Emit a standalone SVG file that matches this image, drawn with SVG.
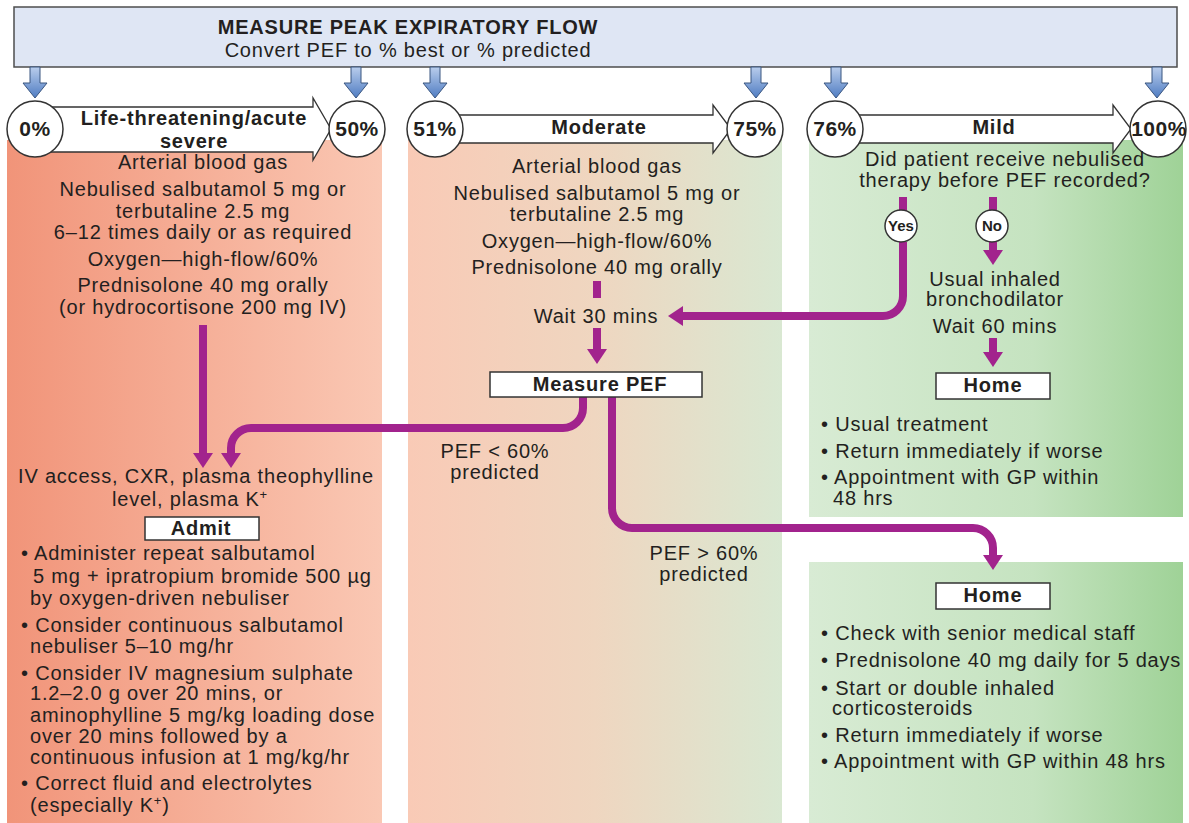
<svg xmlns="http://www.w3.org/2000/svg" width="1189" height="823" viewBox="0 0 1189 823">
<defs>
<linearGradient id="gL" x1="0" y1="0" x2="1" y2="0"><stop offset="0" stop-color="#f19479"/><stop offset="1" stop-color="#fac8b4"/></linearGradient>
<linearGradient id="gM" x1="0" y1="0" x2="1" y2="0"><stop offset="0" stop-color="#f9cab6"/><stop offset="0.5" stop-color="#efd6c0"/><stop offset="1" stop-color="#d9e8d2"/></linearGradient>
<linearGradient id="gR" x1="0" y1="0" x2="1" y2="0"><stop offset="0" stop-color="#d8ebd4"/><stop offset="0.6" stop-color="#c5e3c0"/><stop offset="1" stop-color="#9fd297"/></linearGradient>
<linearGradient id="gB" x1="0" y1="0" x2="0" y2="1"><stop offset="0" stop-color="#b9cdec"/><stop offset="1" stop-color="#4f7cc2"/></linearGradient>
<marker id="ah" viewBox="0 0 15 20" markerUnits="userSpaceOnUse" markerWidth="15" markerHeight="20" refX="7" refY="10" orient="auto"><path d="M0,0 L15,10 L0,20 z" fill="#a2238d"/></marker>
</defs>
<style>
.t{font-family:"Liberation Sans",Arial,sans-serif;font-size:20px;letter-spacing:0.8px;fill:#231f20}
.c{text-anchor:middle}
.b{font-weight:bold}
.pc{font-family:"Liberation Sans",Arial,sans-serif;font-size:21px;font-weight:bold;letter-spacing:0.5px;fill:#231f20;text-anchor:middle}
.yn{font-family:"Liberation Sans",Arial,sans-serif;font-size:15px;font-weight:bold;fill:#231f20;text-anchor:middle}
.circ{fill:#fff;stroke:#333;stroke-width:1.5}
.box{fill:#fff;stroke:#333;stroke-width:1.5}
.barrow{fill:#fff;stroke:#333;stroke-width:1.3}
.blue{fill:url(#gB);stroke:#3b5680;stroke-width:1}
.mg{fill:none;stroke:#a2238d;stroke-width:8}
.mga{fill:none;stroke:#a2238d;stroke-width:8;marker-end:url(#ah)}
.sup{font-size:13px}
</style>

<!-- column backgrounds -->
<rect id="col-severe" x="7" y="140" width="375" height="683" fill="url(#gL)"/>
<rect id="col-moderate" x="408" y="140" width="374" height="683" fill="url(#gM)"/>
<rect id="col-mild-top" x="809" y="140" width="374" height="377" fill="url(#gR)"/>
<rect id="col-mild-bottom" x="809" y="562" width="374" height="261" fill="url(#gR)"/>

<!-- header -->
<g id="header">
<rect x="14" y="7" width="1163" height="60" fill="#dfe6f4" stroke="#4d4d4d" stroke-width="1.5"/>
<text class="t c b" x="408" y="34">MEASURE PEAK EXPIRATORY FLOW</text>
<text class="t c" x="408" y="57">Convert PEF to % best or % predicted</text>
</g>

<!-- blue arrows -->
<g id="blue-arrows">
<path class="blue" d="M30,67 H40 V83 H47 L35,98 L23,83 H30 Z"/>
<path class="blue" d="M351,67 H361 V83 H368 L356,98 L344,83 H351 Z"/>
<path class="blue" d="M430,67 H440 V83 H447 L435,98 L423,83 H430 Z"/>
<path class="blue" d="M751,67 H761 V83 H768 L756,98 L744,83 H751 Z"/>
<path class="blue" d="M831,67 H841 V83 H848 L836,98 L824,83 H831 Z"/>
<path class="blue" d="M1152,67 H1162 V83 H1169 L1157,98 L1145,83 H1152 Z"/>
</g>

<!-- band arrows -->
<g id="band-severe">
<path class="barrow" d="M50,107 H313 V98 L331,129 L313,160 V152 H50 Z"/>
<text class="t c b" x="194" y="125">Life-threatening/acute</text>
<text class="t c b" x="194" y="148">severe</text>
</g>
<g id="band-moderate">
<path class="barrow" d="M450,115 H713 V105 L731,129 L713,153 V143 H450 Z"/>
<text class="t c b" x="599" y="134">Moderate</text>
</g>
<g id="band-mild">
<path class="barrow" d="M850,115 H1113 V105 L1131,129 L1113,153 V143 H850 Z"/>
<text class="t c b" x="994" y="134">Mild</text>
</g>

<!-- percentage circles -->
<g id="p0"><circle class="circ" cx="35" cy="129" r="28"/><text class="pc" x="35" y="136">0%</text></g>
<g id="p50"><circle class="circ" cx="357" cy="129" r="28"/><text class="pc" x="357" y="136">50%</text></g>
<g id="p51"><circle class="circ" cx="435" cy="129" r="28"/><text class="pc" x="435" y="136">51%</text></g>
<g id="p75"><circle class="circ" cx="755" cy="129" r="28"/><text class="pc" x="755" y="136">75%</text></g>
<g id="p76"><circle class="circ" cx="835" cy="129" r="28"/><text class="pc" x="835" y="136">76%</text></g>
<g id="p100"><circle class="circ" cx="1158" cy="129" r="28"/><text class="pc" x="1159" y="136">100%</text></g>

<!-- connectors -->
<g id="connectors">
<path class="mga" d="M203,325 V460"/>
<path class="mg" d="M597,281 V298"/>
<path class="mga" d="M597,328 V356"/>
<path class="mga" d="M583,397 V408 A20,20 0 0 1 563,428 H251 A20,20 0 0 0 231,448 V460"/>
<path class="mga" d="M612,397 V508 A20,20 0 0 0 632,528 H973 A20,20 0 0 1 993,548 V562"/>
<path class="mg" d="M903,197 V211"/>
<path class="mg" d="M993,197 V211"/>
<path class="mga" d="M903,242 V296 A20,20 0 0 1 883,316 H676"/>
<path class="mga" d="M993,242 V257"/>
<path class="mga" d="M993,338 V359"/>
</g>

<!-- severe column -->
<g id="severe-initial">
<text class="t c" x="203" y="169">Arterial blood gas</text>
<text class="t c" x="203" y="196">Nebulised salbutamol 5 mg or</text>
<text class="t c" x="203" y="218">terbutaline 2.5 mg</text>
<text class="t c" x="203" y="239">6–12 times daily or as required</text>
<text class="t c" x="203" y="266">Oxygen—high-flow/60%</text>
<text class="t c" x="203" y="292">Prednisolone 40 mg orally</text>
<text class="t c" x="203" y="314">(or hydrocortisone 200 mg IV)</text>
</g>
<g id="severe-tests">
<text class="t c" x="196" y="483">IV access, CXR, plasma theophylline</text>
<text class="t c" x="190" y="506">level, plasma K<tspan class="sup" dy="-7">+</tspan></text>
</g>
<g id="admit">
<rect class="box" x="145" y="517" width="114" height="23"/>
<text class="t c b" x="201" y="535">Admit</text>
</g>
<g id="admit-list">
<text class="t" x="21" y="560">• Administer repeat salbutamol</text>
<text class="t" x="33" y="583">5 mg + ipratropium bromide 500 µg</text>
<text class="t" x="30" y="605">by oxygen-driven nebuliser</text>
<text class="t" x="21" y="632">• Consider continuous salbutamol</text>
<text class="t" x="30" y="653">nebuliser 5–10 mg/hr</text>
<text class="t" x="21" y="680">• Consider IV magnesium sulphate</text>
<text class="t" x="30" y="700">1.2–2.0 g over 20 mins, or</text>
<text class="t" x="30" y="722">aminophylline 5 mg/kg loading dose</text>
<text class="t" x="30" y="743">over 20 mins followed by a</text>
<text class="t" x="30" y="764">continuous infusion at 1 mg/kg/hr</text>
<text class="t" x="21" y="790">• Correct fluid and electrolytes</text>
<text class="t" x="30" y="812">(especially K<tspan class="sup" dy="-7">+</tspan><tspan dy="7">)</tspan></text>
</g>

<!-- moderate column -->
<g id="moderate-initial">
<text class="t c" x="597" y="173">Arterial blood gas</text>
<text class="t c" x="597" y="200">Nebulised salbutamol 5 mg or</text>
<text class="t c" x="597" y="221">terbutaline 2.5 mg</text>
<text class="t c" x="597" y="248">Oxygen—high-flow/60%</text>
<text class="t c" x="597" y="274">Prednisolone 40 mg orally</text>
</g>
<g id="wait30"><text class="t c" x="596" y="323">Wait 30 mins</text></g>
<g id="measure-pef">
<rect class="box" x="490" y="372" width="212" height="25"/>
<text class="t c b" x="600" y="391">Measure PEF</text>
</g>
<g id="label-lt60">
<text class="t c" x="495" y="458">PEF &lt; 60%</text>
<text class="t c" x="495" y="479">predicted</text>
</g>
<g id="label-gt60">
<text class="t c" x="704" y="560">PEF &gt; 60%</text>
<text class="t c" x="704" y="581">predicted</text>
</g>

<!-- mild column -->
<g id="mild-question">
<text class="t c" x="1005" y="166">Did patient receive nebulised</text>
<text class="t c" x="1005" y="187">therapy before PEF recorded?</text>
</g>
<g id="yes"><circle class="circ" cx="901" cy="226" r="16"/><text class="yn" x="901" y="231">Yes</text></g>
<g id="no"><circle class="circ" cx="992" cy="226" r="16"/><text class="yn" x="992" y="231">No</text></g>
<g id="usual-inhaled">
<text class="t c" x="995" y="286">Usual inhaled</text>
<text class="t c" x="995" y="306">bronchodilator</text>
<text class="t c" x="995" y="333">Wait 60 mins</text>
</g>
<g id="home-mild">
<rect class="box" x="936" y="373" width="114" height="26"/>
<text class="t c b" x="993" y="392">Home</text>
</g>
<g id="home-mild-list">
<text class="t" x="821" y="431">• Usual treatment</text>
<text class="t" x="821" y="458">• Return immediately if worse</text>
<text class="t" x="821" y="484">• Appointment with GP within</text>
<text class="t" x="833" y="505">48 hrs</text>
</g>
<g id="home-moderate">
<rect class="box" x="936" y="583" width="114" height="26"/>
<text class="t c b" x="993" y="602">Home</text>
</g>
<g id="home-moderate-list">
<text class="t" x="821" y="640">• Check with senior medical staff</text>
<text class="t" x="821" y="667">• Prednisolone 40 mg daily for 5 days</text>
<text class="t" x="821" y="695">• Start or double inhaled</text>
<text class="t" x="832" y="715">corticosteroids</text>
<text class="t" x="821" y="742">• Return immediately if worse</text>
<text class="t" x="821" y="768">• Appointment with GP within 48 hrs</text>
</g>
</svg>
